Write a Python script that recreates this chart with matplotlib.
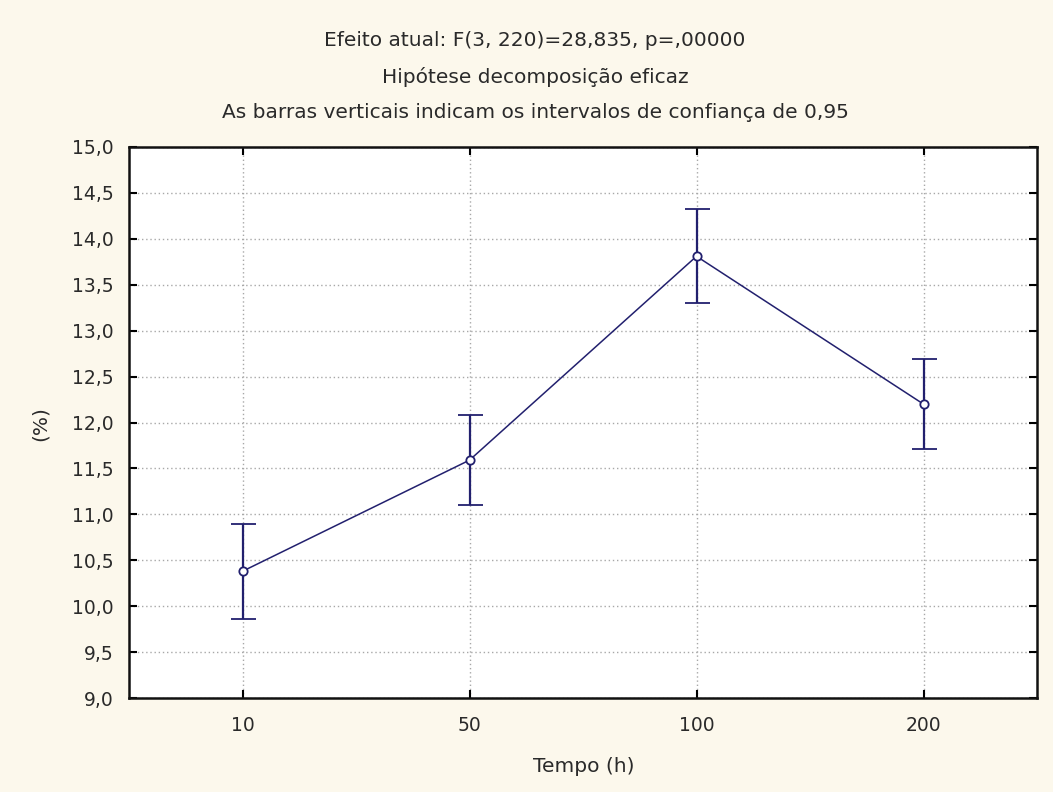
import matplotlib
matplotlib.use("Agg")
import matplotlib.pyplot as plt
from matplotlib.ticker import FuncFormatter

categories = ["10", "50", "100", "200"]
means = [10.38, 11.59, 13.81, 12.20]
ci_half = [0.52, 0.49, 0.51, 0.49]
yticks = [9.0, 9.5, 10.0, 10.5, 11.0, 11.5, 12.0, 12.5, 13.0, 13.5, 14.0, 14.5, 15.0]
title_lines = ["Efeito atual: F(3, 220)=28,835, p=,00000",
               "Hipótese decomposição eficaz",
               "As barras verticais indicam os intervalos de confiança de 0,95"]
xlabel = "Tempo (h)"
ylabel = "(%)"

plt.rcParams['font.family'] = ['DejaVu Sans']
bg = "#FCF8EC"
navy = "#22206E"
txt = "#2a2a2a"

fig = plt.figure(figsize=(10.53, 7.92), dpi=100, facecolor=bg)
ax = fig.add_axes([129/1053, 1-698/792, (1037-129)/1053, (698-147)/792])
ax.set_facecolor("white")

x = list(range(len(categories)))
ax.errorbar(x, means, yerr=ci_half, color=navy, lw=1.1, elinewidth=1.6,
            capsize=9, capthick=1.6, marker='o', markersize=6,
            markerfacecolor='white', markeredgecolor=navy, markeredgewidth=1.3, zorder=3)

ax.set_xlim(-0.5, len(categories) - 0.5)
ax.set_ylim(9, 15)
ax.set_xticks(x)
ax.set_xticklabels(categories)
ax.set_yticks(yticks)
ax.yaxis.set_major_formatter(FuncFormatter(lambda v, p: f"{v:.1f}".replace('.', ',')))
ax.grid(True, color="#a8a8a8", linestyle=(0, (1, 2)), linewidth=1.0, zorder=0)
ax.tick_params(direction='in', length=6, width=1.5, top=True, right=True,
               labelsize=13.5, labelcolor=txt)
ax.tick_params(axis='y', pad=11)
ax.tick_params(axis='x', pad=13)
for s in ax.spines.values():
    s.set_linewidth(1.8)
    s.set_color("#111111")

fig.text((530 + 637) / 2 / 1053, 1 - 767/792, xlabel, ha='center', va='center',
         fontsize=14.5, color=txt)
fig.text(40 / 1053, 1 - 424/792, ylabel, ha='center', va='center', rotation=90,
         fontsize=14.5, color=txt)

cx = 535 / 1053
for t, yp in zip(title_lines, [40, 77, 113]):
    fig.text(cx, 1 - yp/792, t, ha='center', va='center', fontsize=14.5, color=txt)

fig.savefig("out.png", dpi=100, facecolor=bg)
